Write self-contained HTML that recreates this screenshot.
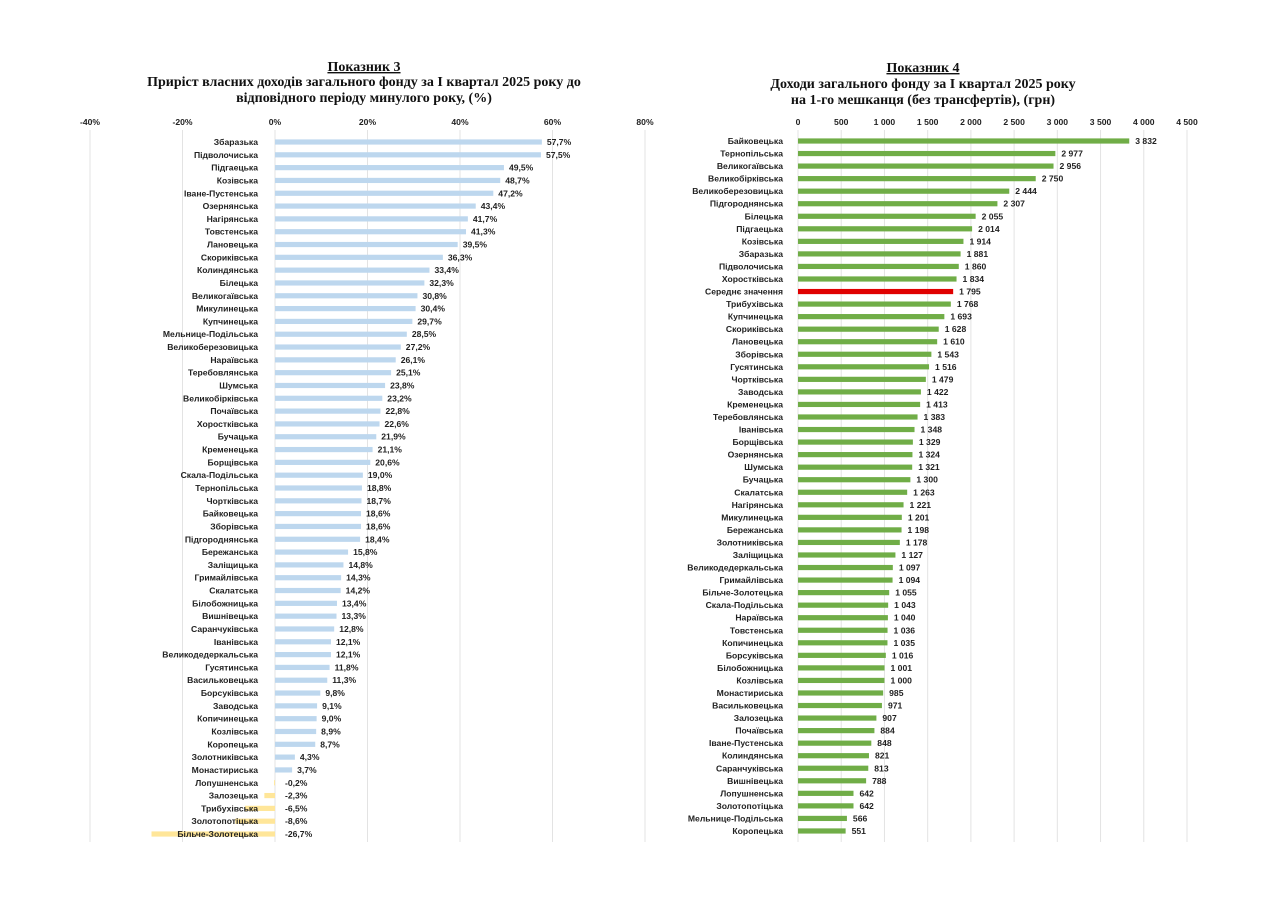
<!DOCTYPE html>
<html><head><meta charset="utf-8">
<style>
body{margin:0;background:#fff;}
svg{display:block}
.t{font-family:"Liberation Serif",serif;font-weight:bold;font-size:14px;fill:#111}
.l{font-family:"Liberation Sans",sans-serif;font-weight:bold;font-size:8.6px;fill:#222}
.a{font-family:"Liberation Sans",sans-serif;font-weight:bold;font-size:8.6px;fill:#222}
</style></head><body>
<svg id="s" width="1280" height="905" xmlns="http://www.w3.org/2000/svg">
<text class="t" x="364" y="71" text-anchor="middle" text-decoration="underline">Показник 3</text>
<text class="t" x="364" y="86" text-anchor="middle">Приріст власних доходів загального фонду за І квартал  2025 року до</text>
<text class="t" x="364" y="102" text-anchor="middle">відповідного періоду минулого року, (%)</text>
<text class="t" x="923" y="72" text-anchor="middle" text-decoration="underline">Показник 4</text>
<text class="t" x="923" y="88" text-anchor="middle">Доходи загального фонду за  І квартал 2025 року</text>
<text class="t" x="923" y="104" text-anchor="middle">на 1-го мешканця (без трансфертів), (грн)</text>
<g id="g"></g>
</svg>
<script>
var g=document.getElementById('g'),h='';
var L=[["Збаразька",57.7],["Підволочиська",57.5],["Підгаецька",49.5],["Козівська",48.7],["Іване-Пустенська",47.2],["Озернянська",43.4],["Нагірянська",41.7],["Товстенська",41.3],["Лановецька",39.5],["Скориківська",36.3],["Колиндянська",33.4],["Білецька",32.3],["Великогаївська",30.8],["Микулинецька",30.4],["Купчинецька",29.7],["Мельнице-Подільська",28.5],["Великоберезовицька",27.2],["Нараївська",26.1],["Теребовлянська",25.1],["Шумська",23.8],["Великобірківська",23.2],["Почаївська",22.8],["Хоростківська",22.6],["Бучацька",21.9],["Кременецька",21.1],["Борщівська",20.6],["Скала-Подільська",19.0],["Тернопільська",18.8],["Чортківська",18.7],["Байковецька",18.6],["Зборівська",18.6],["Підгороднянська",18.4],["Бережанська",15.8],["Заліщицька",14.8],["Гримайлівська",14.3],["Скалатська",14.2],["Білобожницька",13.4],["Вишнівецька",13.3],["Саранчуківська",12.8],["Іванівська",12.1],["Великодедеркальська",12.1],["Гусятинська",11.8],["Васильковецька",11.3],["Борсуківська",9.8],["Заводська",9.1],["Копичинецька",9.0],["Козлівська",8.9],["Коропецька",8.7],["Золотниківська",4.3],["Монастириська",3.7],["Лопушненська",-0.2],["Залозецька",-2.3],["Трибухівська",-6.5],["Золотопотіцька",-8.6],["Більче-Золотецька",-26.7]];
var R=[["Байковецька",3832],["Тернопільська",2977],["Великогаївська",2956],["Великобірківська",2750],["Великоберезовицька",2444],["Підгороднянська",2307],["Білецька",2055],["Підгаецька",2014],["Козівська",1914],["Збаразька",1881],["Підволочиська",1860],["Хоростківська",1834],["Середнє значення",1795],["Трибухівська",1768],["Купчинецька",1693],["Скориківська",1628],["Лановецька",1610],["Зборівська",1543],["Гусятинська",1516],["Чортківська",1479],["Заводська",1422],["Кременецька",1413],["Теребовлянська",1383],["Іванівська",1348],["Борщівська",1329],["Озернянська",1324],["Шумська",1321],["Бучацька",1300],["Скалатська",1263],["Нагірянська",1221],["Микулинецька",1201],["Бережанська",1198],["Золотниківська",1178],["Заліщицька",1127],["Великодедеркальська",1097],["Гримайлівська",1094],["Більче-Золотецька",1055],["Скала-Подільська",1043],["Нараївська",1040],["Товстенська",1036],["Копичинецька",1035],["Борсуківська",1016],["Білобожницька",1001],["Козлівська",1000],["Монастириська",985],["Васильковецька",971],["Залозецька",907],["Почаївська",884],["Іване-Пустенська",848],["Колиндянська",821],["Саранчуківська",813],["Вишнівецька",788],["Лопушненська",642],["Золотопотіцька",642],["Мельнице-Подільська",566],["Коропецька",551]];
function f(v){var s=String(v);return s.length>3?s.slice(0,s.length-3)+' '+s.slice(-3):s;}
for(var i=0;i<7;i++){var x=90+i*92.5;h+='<line x1="'+x+'" y1="130" x2="'+x+'" y2="842" stroke="#e3e3e3" stroke-width="1"/>';
h+='<text class="a" x="'+x+'" y="125" text-anchor="middle">'+((i-2)*20)+'%</text>';}
L.forEach(function(d,i){var y=142+i*12.815,v=d[1],w=Math.abs(v)*4.625;
var x=v>=0?275:275-w;
h+='<rect x="'+x+'" y="'+(y-2.6)+'" width="'+Math.max(w,0.8)+'" height="5.2" fill="'+(v>=0?'#bdd7ee':'#ffe699')+'"/>';
h+='<text class="l" x="258" y="'+(y+3)+'" text-anchor="end">'+d[0]+'</text>';
var vx=v>=0?275+w+5:285;
h+='<text class="a" x="'+vx+'" y="'+(y+3)+'">'+String(v.toFixed(1)).replace('.',',')+'%</text>';});
for(var i=0;i<10;i++){var x=798+i*500*389/4500;h+='<line x1="'+x+'" y1="130" x2="'+x+'" y2="842" stroke="#e3e3e3" stroke-width="1"/>';
h+='<text class="a" x="'+x+'" y="125" text-anchor="middle">'+f(i*500)+'</text>';}
R.forEach(function(d,i){var y=141+i*12.545,v=d[1],w=v*389/4500;
h+='<rect x="798" y="'+(y-2.6)+'" width="'+w+'" height="5.2" fill="'+(d[0]=='Середнє значення'?'#e00000':'#70ad47')+'"/>';
h+='<text class="l" x="783" y="'+(y+3)+'" text-anchor="end">'+d[0]+'</text>';
h+='<text class="a" x="'+(798+w+6)+'" y="'+(y+3)+'">'+f(v)+'</text>';});
g.innerHTML=h;
</script>
</body></html>
